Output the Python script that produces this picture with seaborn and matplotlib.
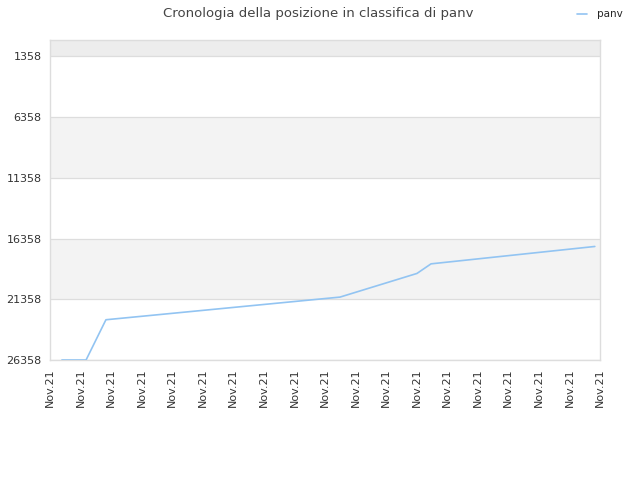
import numpy as np
import matplotlib
matplotlib.use("Agg")
import matplotlib.pyplot as plt
import pandas as pd
import seaborn as sns

# posizioni (x in intervalli tra le etichette)
giorni = [0.39, 1.18, 1.83, 9.49, 12.01, 12.47, 17.83]
posizione = [26358, 26358, 23043, 21177, 19228, 18438, 17007]
etichette_y = [1358, 6358, 11358, 16358, 21358, 26358]
etichette_x = ["Nov.21"] * 19

data = pd.DataFrame({"giorno": giorni, "posizione": posizione})

sns.set_style("white")
plt.rcParams['font.family'] = ['DejaVu Sans']

fig = plt.figure(figsize=(6.4, 4.8), dpi=100)
ax = fig.add_axes([50/640, 1-360/480, 550/640, 320/480])

# bande di sfondo
ax.axhspan(0, 1358, color="#ededed", zorder=0, lw=0)
ax.axhspan(6358, 11358, color="#f3f3f3", zorder=0, lw=0)
ax.axhspan(16358, 21358, color="#f3f3f3", zorder=0, lw=0)
for v in etichette_y:
    ax.axhline(v, color="#dddddd", lw=0.9, zorder=1)

sns.lineplot(data=data, x="giorno", y="posizione", ax=ax, color="#92c4f2",
             lw=1.2, label="panv", zorder=3)

ax.set_xlim(0, 18)
ax.set_ylim(26358, 0)
ax.set_yticks(etichette_y)
ax.set_yticklabels([str(v) for v in etichette_y], fontsize=8, color="#333333")
ax.set_xticks(range(19))
ax.set_xticklabels(etichette_x, rotation=90, fontsize=8, color="#333333")
ax.tick_params(length=0, pad=6)
ax.set_xlabel("")
ax.set_ylabel("")
for s in ax.spines.values():
    s.set_color("#dddddd")
    s.set_linewidth(1)

ax.legend(loc="upper right", bbox_to_anchor=(0.9875, 1.0), bbox_transform=fig.transFigure,
          frameon=False, fontsize=7.5, handlelength=1.0, handletextpad=0.9)
fig.suptitle("Cronologia della posizione in classifica di panv", x=0.497, y=0.985,
             fontsize=9.5, color="#444444")

fig.savefig("out.png", dpi=100)
